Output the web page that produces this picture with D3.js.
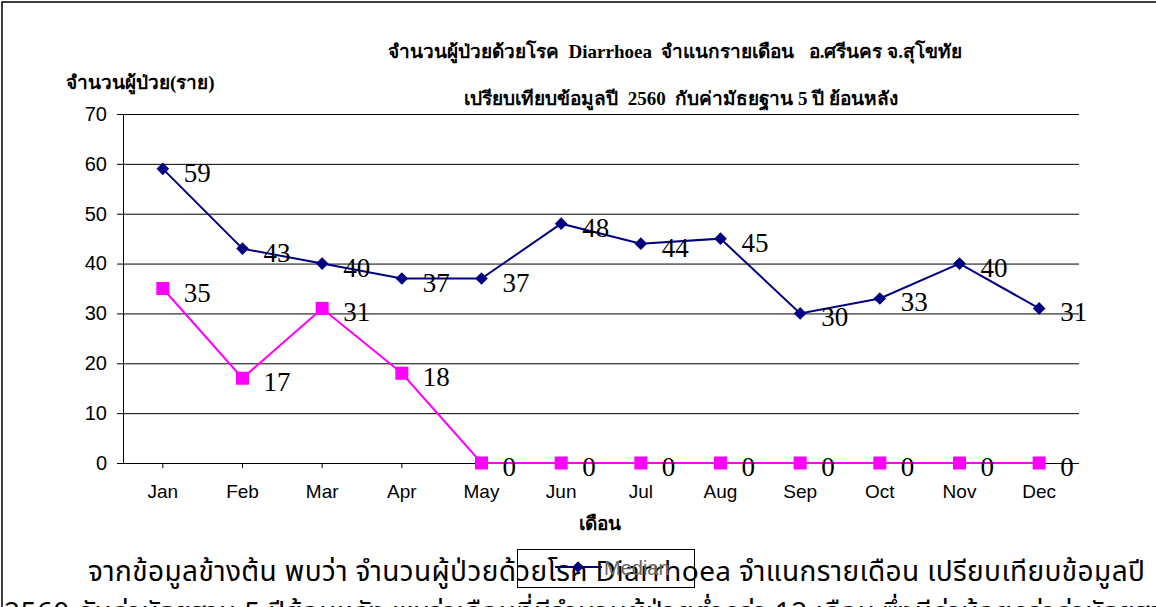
<!DOCTYPE html>
<html>
<head>
<meta charset="utf-8">
<script src="https://cdn.jsdelivr.net/npm/d3@7"></script>
<style>
  body { margin: 0; background: #fff; }
  svg { display: block; }
</style>
</head>
<body>
<div id="chart"></div>
<script>
/* Data */
var months = ["Jan", "Feb", "Mar", "Apr", "May", "Jun", "Jul", "Aug", "Sep", "Oct", "Nov", "Dec"];
var median = [59, 43, 40, 37, 37, 48, 44, 45, 30, 33, 40, 31];
var year2560 = [35, 17, 31, 18, 0, 0, 0, 0, 0, 0, 0, 0];
var yTicks = [0, 10, 20, 30, 40, 50, 60, 70];

var titleLine1 = "จำนวนผู้ป่วยด้วยโรค  Diarrhoea  จำแนกรายเดือน   อ.ศรีนคร จ.สุโขทัย";
var titleLine2 = "เปรียบเทียบข้อมูลปี  2560  กับค่ามัธยฐาน 5 ปี ย้อนหลัง";
var yTitle = "จำนวนผู้ป่วย(ราย)";
var xTitle = "เดือน";
var para1 = "จากข้อมูลข้างต้น พบว่า จำนวนผู้ป่วยด้วยโรค Diarrhoea จำแนกรายเดือน เปรียบเทียบข้อมูลปี";
var para2 = "2560 กับค่ามัธยฐาน 5 ปีย้อนหลัง พบว่าเดือนที่มีจำนวนผู้ป่วยต่ำกว่า 12 เดือน ซึ่งมีค่าน้อยกว่าค่ามัธยฐาน";

/* Settings */
var width = 1156,
    height = 607,
    plotLeft = 123,
    plotRight = 1079,
    plotTop = 114,
    plotBottom = 463,
    navy = "#000080",
    magenta = "#ff00ff",
    serif = "'Liberation Serif', 'Times New Roman', serif",
    sans = "'Liberation Sans', Arial, sans-serif",
    thai = "'Noto Sans Thai', 'Noto Sans', sans-serif";

var x = d3.scaleBand().domain(months).range([plotLeft, plotRight]);
var y = d3.scaleLinear().domain([0, 70]).range([plotBottom, plotTop]);

var svg = d3.select("#chart").append("svg")
    .attr("width", width)
    .attr("height", height)
    .attr("viewBox", "0 0 " + width + " " + height);

/* Frame */
svg.append("path")
  .attr("d", "M2," + height + "V2H" + width)
  .attr("fill", "none")
  .attr("stroke", "#000")
  .attr("stroke-width", 1.5);

/* Titles */
svg.append("text")
  .attr("x", 675).attr("y", 58)
  .attr("text-anchor", "middle")
  .attr("font-family", serif).attr("font-weight", "bold").attr("font-size", 19)
  .attr("xml:space", "preserve")
  .text(titleLine1);

svg.append("text")
  .attr("x", 681).attr("y", 105)
  .attr("text-anchor", "middle")
  .attr("font-family", serif).attr("font-weight", "bold").attr("font-size", 19)
  .attr("xml:space", "preserve")
  .text(titleLine2);

svg.append("text")
  .attr("x", 66).attr("y", 89)
  .attr("font-family", serif).attr("font-weight", "bold").attr("font-size", 19)
  .text(yTitle);

svg.append("text")
  .attr("x", 600).attr("y", 530)
  .attr("text-anchor", "middle")
  .attr("font-family", serif).attr("font-weight", "bold").attr("font-size", 19)
  .text(xTitle);

/* Gridlines */
svg.append("g")
  .selectAll("line")
  .data(yTicks.slice(1))
  .join("line")
  .attr("x1", plotLeft).attr("x2", plotRight)
  .attr("y1", d => y(d) + 0.5).attr("y2", d => y(d) + 0.5)
  .attr("stroke", "#000").attr("stroke-width", 1);

/* Axes */
var yAxis = svg.append("g")
  .attr("transform", "translate(" + plotLeft + ",0)")
  .call(d3.axisLeft(y).tickValues(yTicks).tickSize(6).tickPadding(10).tickSizeOuter(0));
yAxis.select(".domain").attr("stroke", "#000");
yAxis.selectAll("text").attr("font-family", sans).attr("font-size", 20).attr("fill", "#000");

var xAxis = svg.append("g")
  .attr("transform", "translate(0," + plotBottom + ")")
  .call(d3.axisBottom(x).tickSizeOuter(0).tickSize(5).tickPadding(17));
xAxis.select(".domain").attr("d", "M" + (plotLeft - 6) + ",0.5H" + plotRight).attr("stroke", "#000");
xAxis.selectAll("text").attr("font-family", sans).attr("font-size", 19).attr("fill", "#000");

/* Series */
var line = d3.line()
  .x((d, i) => x(months[i]) + x.bandwidth() / 2)
  .y(d => y(d));

function drawSeries(values, color, rotate, size) {
  var g = svg.append("g");
  g.append("path")
    .datum(values)
    .attr("fill", "none")
    .attr("stroke", color)
    .attr("stroke-width", 2)
    .attr("d", line);
  g.selectAll("path.mark")
    .data(values)
    .join("path")
    .attr("class", "mark")
    .attr("d", d3.symbol().type(d3.symbolSquare).size(size))
    .attr("transform", (d, i) => "translate(" + (x(months[i]) + x.bandwidth() / 2) + "," + y(d) + ")" + (rotate ? " rotate(45)" : ""))
    .attr("fill", color);
  g.selectAll("text")
    .data(values)
    .join("text")
    .attr("x", (d, i) => x(months[i]) + x.bandwidth() / 2 + 21)
    .attr("y", d => y(d) + 13)
    .attr("font-family", serif)
    .attr("font-size", 27)
    .attr("fill", "#000")
    .text(d => d);
}

drawSeries(median, navy, true, 80);
drawSeries(year2560, magenta, false, 170);

/* Paragraph text below chart */
svg.append("text")
  .attr("x", 88).attr("y", 581)
  .attr("font-family", thai).attr("font-size", 28)
  .attr("letter-spacing", 0.4)
  .attr("fill", "#000")
  .text(para1);

svg.append("text")
  .attr("x", 4).attr("y", 622)
  .attr("font-family", thai).attr("font-size", 28)
  .attr("letter-spacing", 0.4)
  .attr("fill", "#000")
  .text(para2);

/* Legend (overlapping the paragraph) */
var legend = svg.append("g");
legend.append("rect")
  .attr("x", 517.5).attr("y", 549.5).attr("width", 177).attr("height", 38)
  .attr("fill", "none").attr("stroke", "#000").attr("stroke-width", 1);
legend.append("line")
  .attr("x1", 555).attr("x2", 602).attr("y1", 567).attr("y2", 567)
  .attr("stroke", navy).attr("stroke-width", 2);
legend.append("path")
  .attr("d", d3.symbol().type(d3.symbolSquare).size(64))
  .attr("transform", "translate(578,567) rotate(45)")
  .attr("fill", navy);
legend.append("text")
  .attr("x", 604).attr("y", 575)
  .attr("font-family", sans).attr("font-size", 20)
  .attr("fill", "#666")
  .text("Median");
</script>
</body>
</html>
